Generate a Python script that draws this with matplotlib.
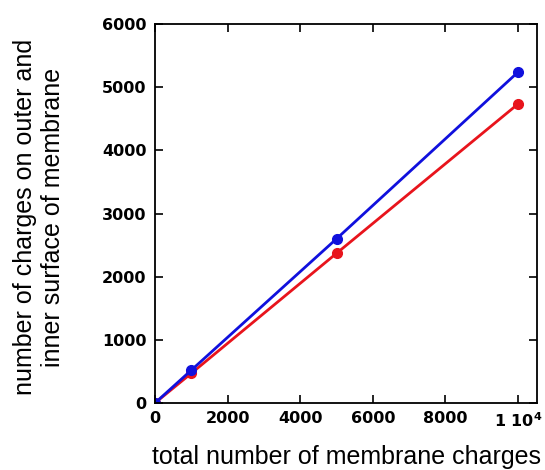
import matplotlib.pyplot as plt

# Data
total_charges = [0, 1000, 5000, 10000]
outer_charges = [0, 520, 2600, 5240]   # blue
inner_charges = [0, 470, 2370, 4735]   # red

x_ticks = [0, 2000, 4000, 6000, 8000, 10000]
x_labels = ['0', '2000', '4000', '6000', '8000', r'1 10$^4$']
y_ticks = [0, 1000, 2000, 3000, 4000, 5000, 6000]

fig = plt.figure(figsize=(5.45, 4.7), dpi=100)
ax = fig.add_axes([155 / 545, 1 - 403 / 470, 382 / 545, 379 / 470])

ax.plot(total_charges, inner_charges, color='#e8141c', lw=2, marker='o', ms=7)
ax.plot(total_charges, outer_charges, color='#1010dd', lw=2, marker='o', ms=7)

ax.set_xlim(0, 10520)
ax.set_ylim(0, 6000)
ax.set_xticks(x_ticks)
ax.set_xticklabels(x_labels)
ax.set_yticks(y_ticks)

ax.tick_params(direction='in', top=True, right=True, length=5.5, width=1.2,
               labelsize=11.5, pad=6)
plt.rcParams['mathtext.default'] = 'bf'
for lab in ax.get_xticklabels() + ax.get_yticklabels():
    lab.set_fontweight('bold')
    lab.set_fontfamily('DejaVu Sans')
for sp in ax.spines.values():
    sp.set_linewidth(1.3)

ax.set_xlabel('total number of membrane charges', fontsize=18,
              family='Liberation Sans')
ax.set_ylabel('number of charges on outer and\ninner surface of membrane',
              fontsize=18, family='Liberation Sans', linespacing=1.2)
ax.xaxis.set_label_coords(0.5, -0.112)
ax.yaxis.set_label_coords(-0.235, 0.49)

fig.savefig('out.png', dpi=100)
